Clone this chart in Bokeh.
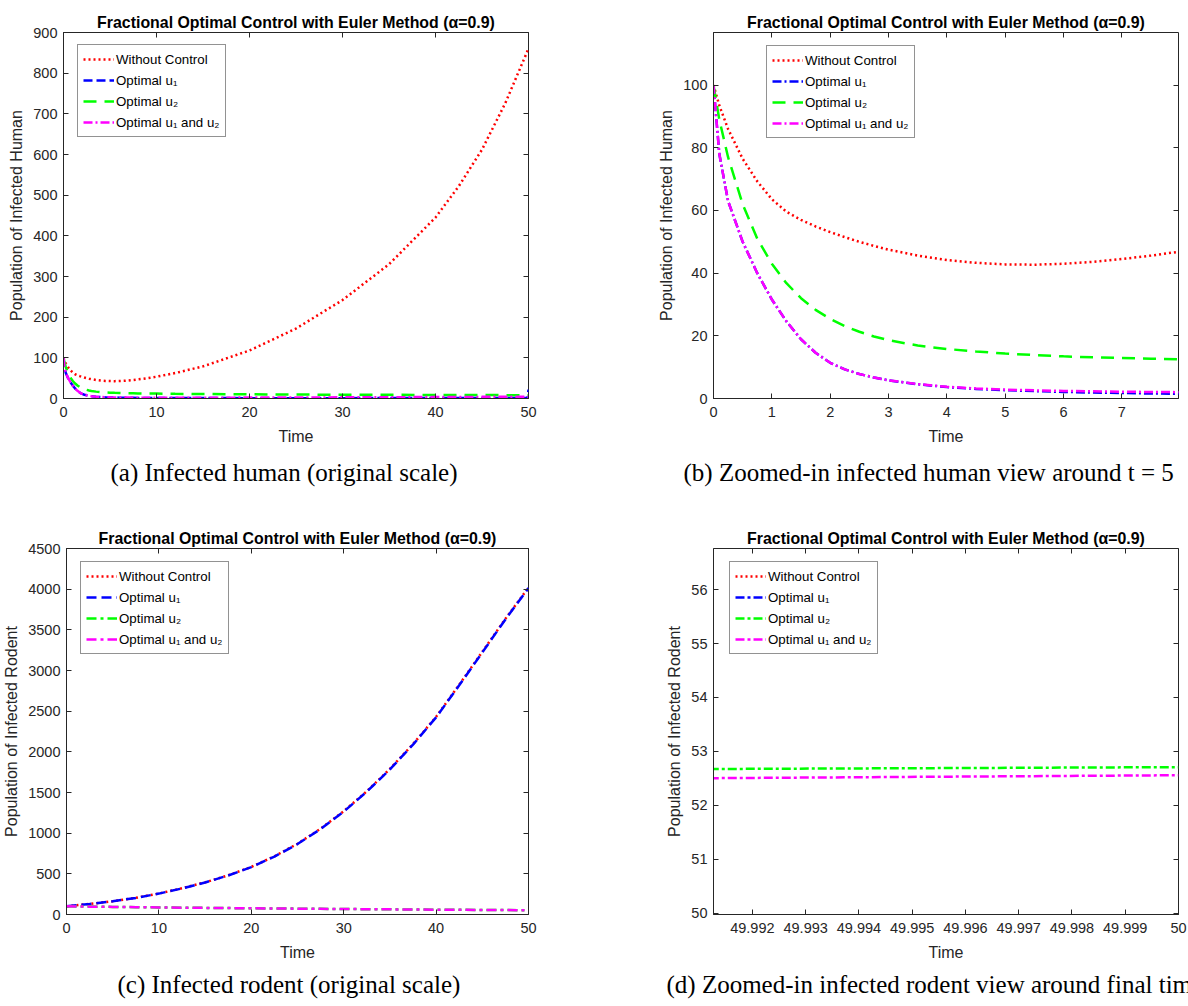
from bokeh.plotting import figure
from bokeh.layouts import row, column
from bokeh.models import (Range1d, FixedTicker, LinearAxis, Legend, LegendItem,
                          Title, CustomJSTickFormatter)
from bokeh.embed import file_html
from bokeh.resources import INLINE

# ---------------- data ----------------
TITLE = "Fractional Optimal Control with Euler Method (\u03b1=0.9)"
SERIES = ["Without Control", "Optimal u\u2081", "Optimal u\u2082", "Optimal u\u2081 and u\u2082"]

# infected human
t_h = [0, 0.1, 0.25, 0.5, 0.75, 1, 1.25, 1.5, 1.75, 2, 2.25, 2.5, 2.75, 3, 3.5, 4, 4.5, 5,
       5.5, 6, 6.5, 7, 7.5, 8, 9, 10, 12, 15, 20, 25, 30, 35, 40, 42.5, 45, 47.5, 49.9, 50]
ih_none = [100, 93.5, 86, 76.5, 69.3, 63.6, 59.6, 57.0, 54.9, 53.1, 51.5, 50.0, 48.7, 47.5,
           45.6, 44.2, 43.3, 42.8, 42.7, 43.0, 43.6, 44.5, 45.6, 46.9, 49.9, 53.6, 62.5, 79,
           118, 172, 242, 330, 445, 522, 612, 726, 855, 862]
ih_u1 = [100, 78, 63, 50, 40, 31.6, 24.6, 18.9, 14.6, 11.4, 9.3, 7.8, 6.7, 5.8, 4.55, 3.65,
         3.05, 2.65, 2.35, 2.1, 1.9, 1.74, 1.6, 1.48, 1.32, 1.2, 1.1, 1.0, 0.9, 0.9, 0.9, 1.0,
         1.0, 1.05, 1.1, 1.3, 1.5, 22]
ih_u2 = [100, 89, 77, 62, 51, 43, 36.8, 32.0, 28.3, 25.4, 23.1, 21.3, 19.8, 18.6, 16.9, 15.8,
         15.0, 14.35, 13.85, 13.45, 13.15, 12.9, 12.7, 12.5, 12.25, 12.0, 11.5, 11.0, 10.3,
         9.7, 9.3, 9.0, 8.7, 8.55, 8.4, 8.3, 8.2, 8.2]
ih_u12 = [100, 78, 63, 50, 40, 31.6, 24.6, 18.9, 14.6, 11.4, 9.3, 7.8, 6.7, 5.8, 4.6, 3.75,
          3.2, 2.85, 2.6, 2.42, 2.28, 2.17, 2.08, 2.02, 1.95, 1.9, 1.9, 2.0, 2.2, 2.5, 2.8,
          3.2, 3.6, 3.8, 4.0, 4.2, 4.4, 4.4]

# infected rodent
t_r = [0, 2.5, 5, 7.5, 10, 12.5, 15, 17.5, 20, 22.5, 25, 27.5, 30, 32.5, 35, 37.5, 40, 42.5,
       45, 47.5, 50]
ir_none = [100, 130, 163, 205, 258, 322, 395, 482, 585, 715, 870, 1055, 1270, 1515, 1790, 2095,
           2430, 2825, 3230, 3635, 4020]
ir_u1 = [100, 130, 162, 204, 257, 320, 393, 480, 582, 712, 866, 1050, 1265, 1510, 1784, 2089,
         2424, 2818, 3222, 3628, 4014]
ir_u2 = [100, 97, 93.5, 90, 87, 84, 81.5, 79, 76.5, 74, 72, 69.7, 67.5, 65.5, 63.5, 61.5, 59.5,
         57.7, 56, 54.3, 52.71]
ir_u12 = [100, 96.8, 93.3, 89.8, 86.8, 83.8, 81.3, 78.8, 76.3, 73.8, 71.8, 69.5, 67.3, 65.3,
          63.3, 61.3, 59.3, 57.5, 55.8, 54.1, 52.56]

# infected rodent near the final time
t_end = [49.9912, 49.9934, 49.9956, 49.9978, 50.0]
ir_end_none = [4019.6, 4019.7, 4019.8, 4019.9, 4020.0]
ir_end_u1 = [4013.6, 4013.7, 4013.8, 4013.9, 4014.0]
ir_end_u2 = [52.675, 52.684, 52.692, 52.701, 52.71]
ir_end_u12 = [52.505, 52.519, 52.533, 52.546, 52.56]

# ticks
xt_full = [0, 10, 20, 30, 40, 50]
yt_a = [0, 100, 200, 300, 400, 500, 600, 700, 800, 900]
xt_b = [0, 1, 2, 3, 4, 5, 6, 7]
yt_b = [0, 20, 40, 60, 80, 100]
yt_c = [0, 500, 1000, 1500, 2000, 2500, 3000, 3500, 4000, 4500]
xt_d = [49.992, 49.993, 49.994, 49.995, 49.996, 49.997, 49.998, 49.999, 50.0]
yt_d = [50, 51, 52, 53, 54, 55, 56]

# ---------------- styling ----------------
SANS = "Liberation Sans"
SERIF = "Liberation Serif"
AX = "#262626"
RED, BLUE, GREEN, MAGENTA = "#FF0000", "#0000FF", "#00FF00", "#FF00FF"
FRAME_H = 366
LEG_H = 91


def make_fig(width, height, xr, yr, xt, yt, bl, br, bt, bb, ylabel, caption, cap_offset,
             cap_standoff, xfmt=None):
    p = figure(width=width, height=height, x_range=Range1d(*xr), y_range=Range1d(*yr),
               output_backend="svg", toolbar_location=None,
               min_border_left=bl, min_border_right=br, min_border_top=bt,
               min_border_bottom=bb, title=TITLE)
    p.title.text_font = SANS
    p.title.text_font_size = "15.9px"
    p.title.text_font_style = "bold"
    p.title.text_color = "#000000"
    p.title.align = "center"
    p.title.standoff = 4
    p.xgrid.visible = False
    p.ygrid.visible = False
    p.outline_line_color = AX
    p.outline_line_width = 1
    p.background_fill_color = "white"
    p.border_fill_color = "white"
    for ax, ticks in ((p.xaxis[0], xt), (p.yaxis[0], yt)):
        ax.ticker = FixedTicker(ticks=ticks)
        ax.major_tick_in = 5
        ax.major_tick_out = 0
        ax.minor_tick_line_color = None
        ax.axis_line_color = AX
        ax.major_tick_line_color = AX
        ax.major_label_text_font = SANS
        ax.major_label_text_font_size = "14.5px"
        ax.major_label_text_color = AX
        ax.axis_label_text_font = SANS
        ax.axis_label_text_font_size = "16px"
        ax.axis_label_text_font_style = "normal"
        ax.axis_label_text_color = AX
    p.xaxis[0].major_label_standoff = 8
    p.xaxis[0].axis_label_standoff = 8
    p.yaxis[0].major_label_standoff = 6
    p.yaxis[0].axis_label_standoff = 5
    if xfmt is not None:
        p.xaxis[0].formatter = xfmt
    p.xaxis[0].axis_label = "Time"
    p.yaxis[0].axis_label = ylabel

    # mirrored tick marks on top and right (MATLAB box)
    top = LinearAxis(ticker=FixedTicker(ticks=xt), formatter=CustomJSTickFormatter(code="return ''"),
                     major_tick_in=5, major_tick_out=0, minor_tick_line_color=None,
                     axis_line_color=None, major_tick_line_color=AX,
                     major_label_text_font_size="0px", major_label_standoff=0)
    right = LinearAxis(ticker=FixedTicker(ticks=yt), formatter=CustomJSTickFormatter(code="return ''"),
                       major_tick_in=5, major_tick_out=0, minor_tick_line_color=None,
                       axis_line_color=None, major_tick_line_color=AX,
                       major_label_text_font_size="0px", major_label_standoff=0)
    p.add_layout(top, "above")
    p.add_layout(right, "right")

    cap = Title(text=caption, align="left", offset=cap_offset, text_font=SERIF,
                text_font_size="25px", text_font_style="normal", text_color="#000000",
                standoff=cap_standoff)
    p.add_layout(cap, "below")
    return p


def add_legend(p, renderers, dx, dy):
    items = [LegendItem(label=lab, renderers=[r]) for lab, r in zip(SERIES, renderers)]
    leg = Legend(items=items, location=(dx, FRAME_H - dy - LEG_H),
                 label_text_font=SANS, label_text_font_size="13.3px", label_text_color="#000000",
                 glyph_width=31, glyph_height=18, label_height=18, label_standoff=2,
                 spacing=3, padding=5, margin=0,
                 border_line_color=AX, border_line_width=1, background_fill_color="white",
                 background_fill_alpha=1)
    p.add_layout(leg)


LW = 2.5
DOT = "2 3"

# ---- (a) infected human, original scale
pa = make_fig(594, 524, (0, 50), (0, 900), xt_full, yt_a, 63, 66, 32, 126,
              "Population of Infected Human", "(a) Infected human (original scale)", 47, 18)
ra = [pa.line(t_h, ih_none, line_color=RED, line_width=LW, line_dash=DOT),
      pa.line(t_h, ih_u1, line_color=BLUE, line_width=LW, line_dash="9 4"),
      pa.line(t_h, ih_u2, line_color=GREEN, line_width=LW, line_dash="13 8"),
      pa.line(t_h, ih_u12, line_color=MAGENTA, line_width=LW, line_dash="9 3 2 3")]
add_legend(pa, ra, 14, 14)

# ---- (b) zoomed infected human
pb = make_fig(594, 524, (0, 7.97), (0, 116.8), xt_b, yt_b, 119, 10, 32, 126,
              "Population of Infected Human", "(b) Zoomed-in infected human view around t = 5",
              -30, 18)
rb = [pb.line(t_h, ih_none, line_color=RED, line_width=LW, line_dash=DOT),
      pb.line(t_h, ih_u1, line_color=BLUE, line_width=LW, line_dash="9 3 2 3"),
      pb.line(t_h, ih_u2, line_color=GREEN, line_width=LW, line_dash="13 8"),
      pb.line(t_h, ih_u12, line_color=MAGENTA, line_width=LW, line_dash="9 3 2 3")]
add_legend(pb, rb, 53, 15)

# ---- (c) infected rodent, original scale
pc = make_fig(594, 482, (0, 50), (0, 4500), xt_full, yt_c, 63, 66, 24, 92,
              "Population of Infected Rodent", "(c) Infected rodent (original scale)", 51, 11)
rc = [pc.line(t_r, ir_none, line_color=RED, line_width=LW, line_dash=DOT),
      pc.line(t_r, ir_u1, line_color=BLUE, line_width=LW, line_dash="10 5"),
      pc.line(t_r, ir_u2, line_color=GREEN, line_width=LW, line_dash="10 4 3 4"),
      pc.line(t_r, ir_u12, line_color=MAGENTA, line_width=LW, line_dash="10 4 3 4")]
add_legend(pc, rc, 14, 15)

# ---- (d) zoomed infected rodent near final time
fmt_d = CustomJSTickFormatter(code="return Number(tick.toFixed(3)).toString();")
pd_ = make_fig(594, 482, (49.99127, 50.0), (49.98, 56.76), xt_d, yt_d, 119, 10, 24, 92,
               "Population of Infected Rodent",
               "(d) Zoomed-in infected rodent view around final time", -47, 11, xfmt=fmt_d)
rd = [pd_.line(t_end, ir_end_none, line_color=RED, line_width=LW, line_dash=DOT),
      pd_.line(t_end, ir_end_u1, line_color=BLUE, line_width=LW, line_dash="9 3 3 3"),
      pd_.line(t_end, ir_end_u2, line_color=GREEN, line_width=LW, line_dash="9 3 3 3"),
      pd_.line(t_end, ir_end_u12, line_color=MAGENTA, line_width=LW, line_dash="9 3 3 3")]
add_legend(pd_, rd, 16, 15)

layout = column(row(pa, pb), row(pc, pd_))

open("out.html", "w").write(file_html(layout, INLINE))
